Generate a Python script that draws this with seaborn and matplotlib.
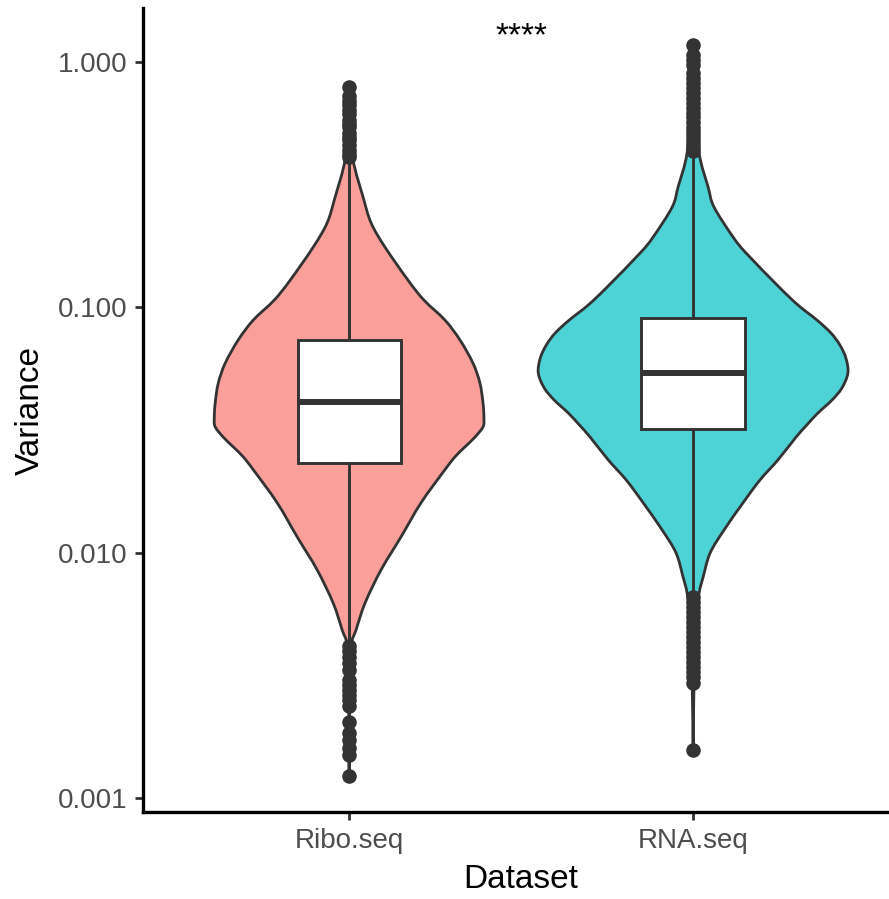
import numpy as np
import pandas as pd
import matplotlib
matplotlib.use("Agg")
import matplotlib.pyplot as plt
from matplotlib.path import Path
from matplotlib.patches import PathPatch
from matplotlib.ticker import NullLocator
import seaborn as sns

# ---------------------------------------------------------------- data
categories = ["Ribo.seq", "RNA.seq"]
fill_colors = ["#F8766D", "#00BFC4"]

# violin outlines: variance levels (ascending) and relative density (1 = widest)
ribo_violin_var = [0.00123, 0.00251, 0.00413, 0.00485, 0.00624, 0.00851, 0.0116,
                   0.0160, 0.0218, 0.0246, 0.0270, 0.0296, 0.0326, 0.0354, 0.0408,
                   0.0492, 0.0593, 0.0737, 0.0888, 0.107, 0.129, 0.176, 0.221,
                   0.282, 0.399, 0.580, 0.791]
ribo_violin_dens = [0.0, 0.003, 0.013, 0.045, 0.103, 0.206, 0.335,
                    0.465, 0.619, 0.684, 0.748, 0.813, 0.865, 0.871, 0.865,
                    0.845, 0.800, 0.716, 0.619, 0.484, 0.381, 0.232, 0.142,
                    0.090, 0.026, 0.006, 0.0]

rna_violin_var = [0.001572, 0.002946, 0.00532, 0.00686, 0.00797, 0.00998, 0.01239,
                  0.0160, 0.0198, 0.0239, 0.0296, 0.0332, 0.0371, 0.0419, 0.0469,
                  0.0540, 0.0622, 0.0703, 0.0787, 0.0888, 0.1023, 0.1211, 0.1666,
                  0.1936, 0.2565, 0.3095, 0.426, 0.700, 1.173]
rna_violin_dens = [0.0, 0.006, 0.019, 0.039, 0.065, 0.110, 0.200,
                   0.323, 0.432, 0.548, 0.665, 0.735, 0.806, 0.897, 0.961,
                   1.0, 0.987, 0.948, 0.890, 0.800, 0.677, 0.555, 0.342,
                   0.258, 0.135, 0.097, 0.039, 0.013, 0.0]

# box statistics per dataset
box_whislo = [0.00429, 0.00686]
box_q1 = [0.0233, 0.0319]
box_med = [0.0413, 0.0542]
box_q3 = [0.0736, 0.0903]
box_whishi = [0.399, 0.426]

# points beyond the whiskers
ribo_outliers = [0.791, 0.727, 0.694, 0.668, 0.637, 0.614, 0.580, 0.559, 0.543,
                 0.514, 0.495, 0.481, 0.459, 0.438, 0.422, 0.410,
                 0.004172, 0.003979, 0.003762, 0.003556, 0.003330, 0.003032,
                 0.002893, 0.002760, 0.002634, 0.002513, 0.002375, 0.002044,
                 0.001843, 0.001727, 0.001602, 0.001500, 0.001231]
rna_outliers = [1.173, 1.068, 1.019, 0.972, 0.902, 0.861, 0.821, 0.784, 0.748,
                0.713, 0.681, 0.650, 0.620, 0.597, 0.569, 0.543, 0.523, 0.504,
                0.486, 0.468, 0.450, 0.434,
                0.006604, 0.006301, 0.006012, 0.005738, 0.005474, 0.005224,
                0.004984, 0.004757, 0.004538, 0.004330, 0.004131, 0.003942,
                0.003762, 0.003589, 0.003424, 0.003268, 0.003119, 0.002946,
                0.001572]

signif_label = "****"

# ---------------------------------------------------------------- style
sns.set_theme(style="ticks")
plt.rcParams["font.family"] = ["Liberation Sans", "DejaVu Sans"]

EDGE = "#333333"
HALF_WIDTH = 0.45      # half of the violin width at its widest


def smooth_outline(points):
    """Catmull-Rom through points, returned as cubic Bezier vertices."""
    p = np.asarray(points, dtype=float)
    ext = np.vstack([p[0], p, p[-1]])
    verts = [p[0]]
    for i in range(1, len(ext) - 2):
        c1 = ext[i] + (ext[i + 1] - ext[i - 1]) / 6.0
        c2 = ext[i + 1] - (ext[i + 2] - ext[i]) / 6.0
        c1[0] = max(c1[0], 0.0)
        c2[0] = max(c2[0], 0.0)
        verts += [c1, c2, ext[i + 1]]
    return np.array(verts)


def violin_patch(center, values, dens, color):
    logv = np.log10(values)
    side = smooth_outline(np.column_stack([np.asarray(dens) * HALF_WIDTH, logv]))
    right = np.column_stack([center + side[:, 0], 10 ** side[:, 1]])
    left = np.column_stack([center - side[::-1, 0], 10 ** side[::-1, 1]])
    verts = np.vstack([right, left[1:], right[:1]])
    codes = [Path.MOVETO] + [Path.CURVE4] * (len(right) - 1) \
        + [Path.CURVE4] * (len(left) - 1) + [Path.CLOSEPOLY]
    return PathPatch(Path(verts, codes), facecolor=color, edgecolor=EDGE,
                     linewidth=2.0, zorder=1)


W, H = 889, 899
fig = plt.figure(figsize=(W / 100, H / 100), dpi=100)

y_lo, y_hi = -3.058, 0.218
px_per_dec = 245.4
ax_left, ax_top = 142.7, 8.5
ax_h = (y_hi - y_lo) * px_per_dec
ax_w = 2.2 * 344.0
ax = fig.add_axes([ax_left / W, 1 - (ax_top + ax_h) / H, ax_w / W, ax_h / H])
ax.set_yscale("log")

# violins, drawn at seaborn's categorical positions 0 and 1
violins = [(ribo_violin_var, ribo_violin_dens), (rna_violin_var, rna_violin_dens)]
for i, ((vals, dens), col) in enumerate(zip(violins, fill_colors)):
    rgb = np.array(matplotlib.colors.to_rgb(col))
    soft = tuple(0.7 * rgb + 0.3)
    ax.add_patch(violin_patch(i, vals, dens, soft))

# boxplots from the summary statistics
stats = [dict(whislo=box_whislo[i], q1=box_q1[i], med=box_med[i], q3=box_q3[i],
              whishi=box_whishi[i], fliers=[]) for i in range(len(categories))]
ax.bxp(stats, positions=[0, 1], widths=0.3, showcaps=False, showfliers=False,
       patch_artist=True,
       boxprops=dict(facecolor="white", edgecolor=EDGE, linewidth=2.1),
       medianprops=dict(color=EDGE, linewidth=4.3, solid_capstyle="butt"),
       whiskerprops=dict(color=EDGE, linewidth=2.1),
       manage_ticks=False, zorder=2)

# outlying points
outliers = pd.DataFrame({
    "Dataset": [categories[0]] * len(ribo_outliers) + [categories[1]] * len(rna_outliers),
    "Variance": ribo_outliers + rna_outliers,
})
sns.stripplot(data=outliers, x="Dataset", y="Variance", order=categories,
              jitter=False, color=EDGE, size=10.5, linewidth=0, ax=ax, zorder=4)

# axes
ax.set_xlim(-0.6, 1.6)
ax.set_ylim(10 ** y_lo, 10 ** y_hi)
ax.set_yticks([0.001, 0.01, 0.1, 1.0])
ax.set_yticklabels(["0.001", "0.010", "0.100", "1.000"])
ax.yaxis.set_minor_locator(NullLocator())
ax.set_xticks([0, 1])
ax.set_xticklabels(categories)

sns.despine(ax=ax)
for s in ("left", "bottom"):
    ax.spines[s].set_linewidth(2.4)
    ax.spines[s].set_color("black")
ax.tick_params(axis="both", which="major", length=6, width=2.0, color=EDGE,
               labelsize=20, labelcolor="#4D4D4D", pad=5)

ax.set_xlabel("Dataset", fontsize=24, color="black", va="top")
ax.set_ylabel("Variance", fontsize=24, color="black")
ax.xaxis.set_label_coords(0.5, -(864 - (ax_top + ax_h)) / ax_h)
ax.yaxis.set_label_coords((46 - ax_left) / ax_w, 0.5)

ax.text(0.5, 10 ** 0.07, signif_label, ha="center", va="baseline",
        fontsize=24, color="black")

fig.savefig("out.png", dpi=100)
